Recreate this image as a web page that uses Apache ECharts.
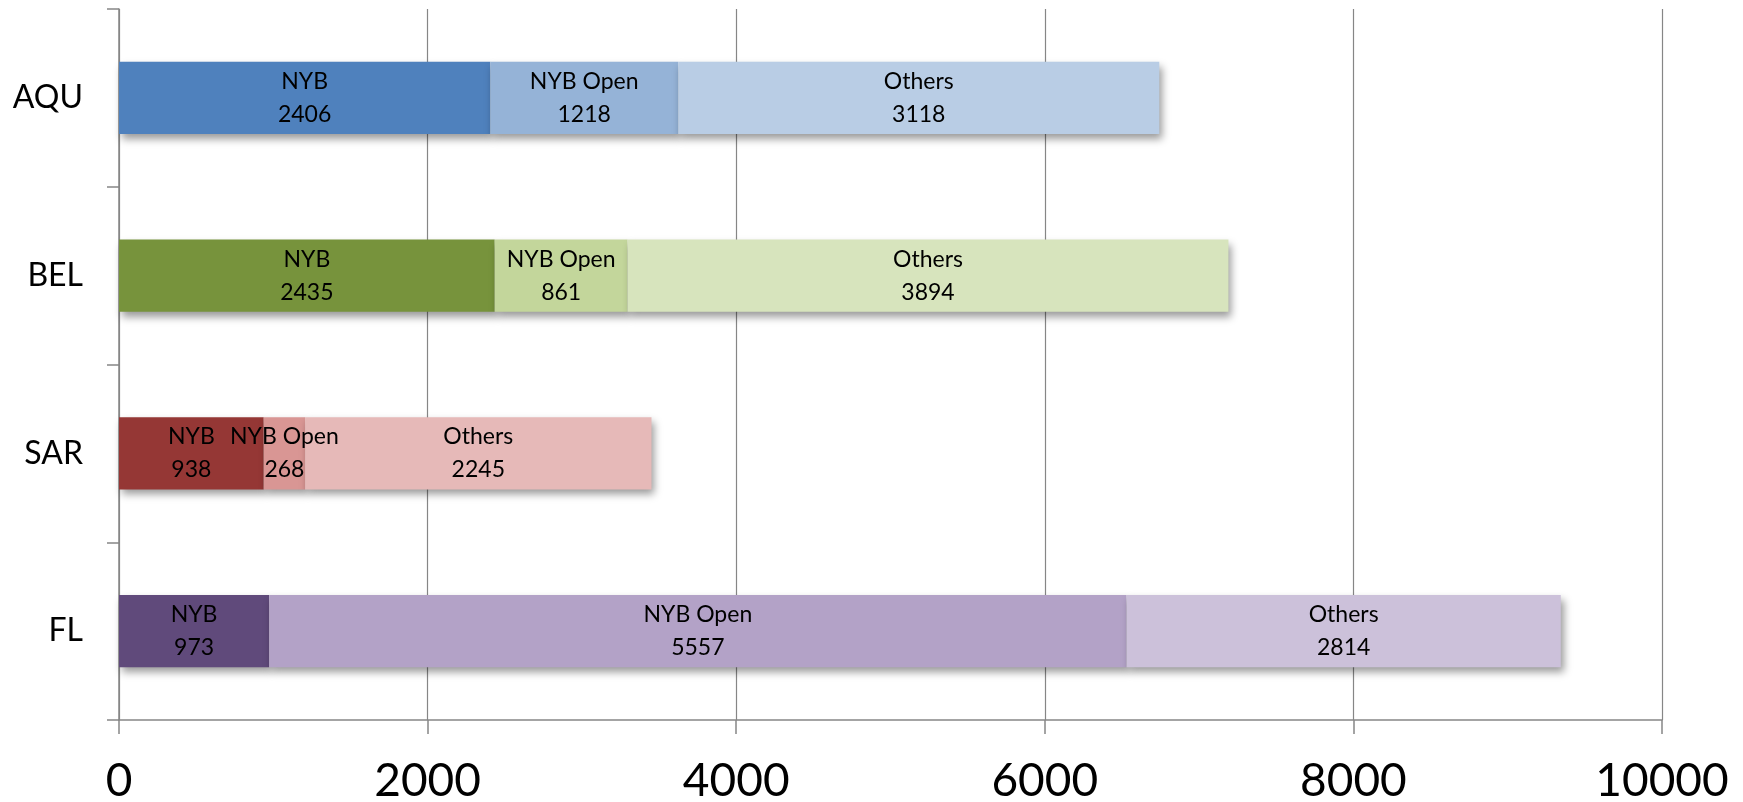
<!DOCTYPE html>
<html><head><meta charset="utf-8">
<script src="https://cdn.jsdelivr.net/npm/echarts@6/dist/echarts.min.js"></script>
<style>html,body{margin:0;padding:0;background:#fff}#c{width:1743px;height:802px}</style>
</head><body><div id="c"></div>
<script>
const categories = ['AQU', 'BEL', 'SAR', 'FL'];
const seriesNames = ['NYB', 'NYB Open', 'Others'];
const nybValues = [2406, 2435, 938, 973];
const nybOpenValues = [1218, 861, 268, 5557];
const othersValues = [3118, 3894, 2245, 2814];
const xTicks = [0, 2000, 4000, 6000, 8000, 10000];

const palette = [
  ['#4F81BD', '#95B3D7', '#B9CDE5'],
  ['#77933C', '#C3D69B', '#D7E4BD'],
  ['#953735', '#D99694', '#E6B9B8'],
  ['#604A7B', '#B3A2C7', '#CCC1DA']
];
const allValues = [nybValues, nybOpenValues, othersValues];
const FONT = 'Lato, "Open Sans", sans-serif';

const chart = echarts.init(document.getElementById('c'));
chart.setOption({
  animation: false,
  backgroundColor: '#fff',
  grid: { left: 119, right: 81, top: 9, bottom: 82, containLabel: false, outerBoundsMode: 'none' },
  xAxis: {
    type: 'value', min: xTicks[0], max: xTicks[xTicks.length - 1], interval: 2000,
    axisLine: { show: true, lineStyle: { color: '#868686', width: 1.5 } },
    axisTick: { show: true, length: 14, lineStyle: { color: '#868686', width: 1.5 } },
    splitLine: { show: true, lineStyle: { color: '#868686', width: 1.2 } },
    axisLabel: { fontFamily: FONT, fontSize: 46, color: '#000', margin: 38, formatter: v => String(v) }
  },
  yAxis: {
    type: 'category', data: categories, inverse: true,
    axisLine: { show: true, lineStyle: { color: '#868686', width: 1.5 } },
    axisTick: { show: true, length: 12, lineStyle: { color: '#868686', width: 1.5 } },
    axisLabel: { fontFamily: FONT, fontSize: 32, color: '#000', margin: 36 }
  },
  series: seriesNames.map((name, si) => ({
    name, type: 'bar', stack: 'total', barWidth: '40.6%',
    data: allValues[si].map((v, ci) => ({ value: v, itemStyle: { color: palette[ci][si] } })),
    itemStyle: { shadowBlur: 8, shadowOffsetX: 3, shadowOffsetY: 5, shadowColor: 'rgba(0,0,0,0.4)' },
    label: { show: true, position: 'inside', formatter: '{a}\n{c}', fontFamily: FONT, fontSize: 23, lineHeight: 33, color: '#000' }
  }))
});
</script></body></html>
